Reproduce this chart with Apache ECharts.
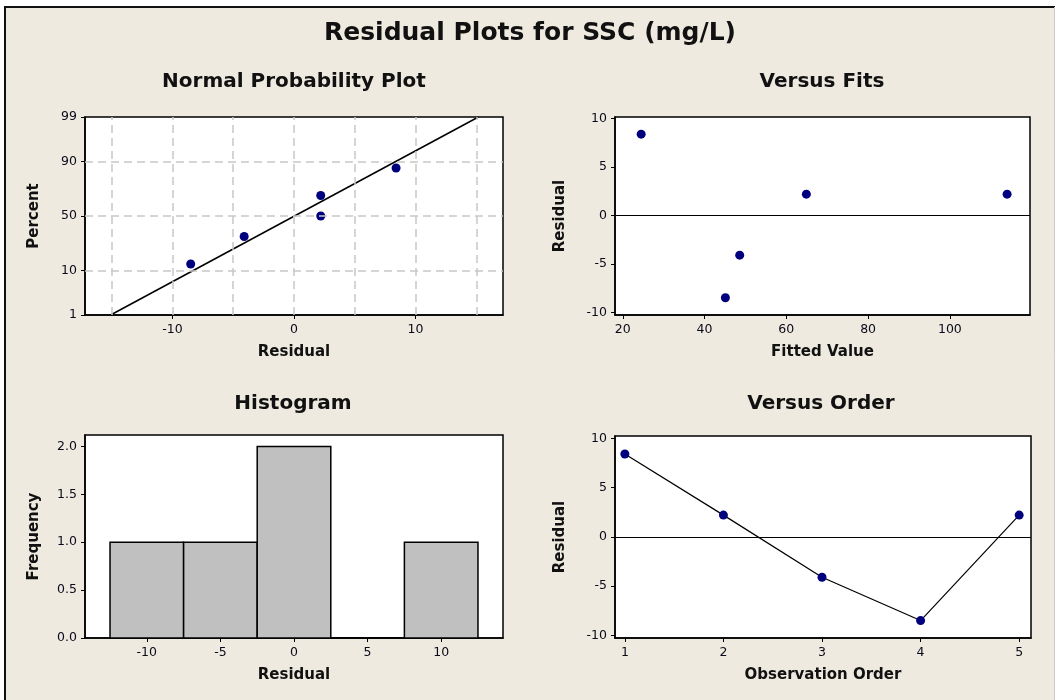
<!DOCTYPE html>
<html>
<head>
<meta charset="utf-8">
<script src="https://cdn.jsdelivr.net/npm/echarts@6/dist/echarts.min.js"></script>
<style>
html,body{margin:0;padding:0;background:#fff;}
#main{width:1061px;height:700px;}
</style>
</head>
<body>
<div id="main"></div>
<script>
// ---------------- data ----------------
const residuals = [8.4, 2.2, -4.1, -8.5, 2.2];          // by observation order
const fittedValues = [24.5, 64.9, 48.6, 45.1, 114.0];   // by observation order
const observationOrder = [1, 2, 3, 4, 5];
const nppPercent = [12.96, 31.48, 50, 68.52, 87.04];    // plotting positions (sorted residuals)
const nppTickPercent = [1, 10, 50, 90, 99];
const nppGridPercent = [10, 50, 90];
const nppGridResidual = [-15, -10, -5, 0, 5, 10, 15];
const nppXTicks = [-10, 0, 10];
const histBinCenters = [-10, -5, 0, 5, 10];
const histCounts = [1, 1, 2, 0, 1];
const histBinWidth = 5;
const histXTicks = [-10, -5, 0, 5, 10];
const histYTicks = [0, 0.5, 1, 1.5, 2];
const fitsXTicks = [20, 40, 60, 80, 100];
const residualTicks = [-10, -5, 0, 5, 10];
const orderTicks = [1, 2, 3, 4, 5];

// ---------------- helpers ----------------
function normInv(p) {
  const a = [-3.969683028665376e+01, 2.209460984245205e+02, -2.759285104469687e+02, 1.383577518672690e+02, -3.066479806614716e+01, 2.506628277459239e+00];
  const b = [-5.447609879822406e+01, 1.615858368580409e+02, -1.556989798598866e+02, 6.680131188771972e+01, -1.328068155288572e+01];
  const c = [-7.784894002430293e-03, -3.223964580411365e-01, -2.400758277161838e+00, -2.549671492554536e+00, 4.374664141464968e+00, 2.938163982698783e+00];
  const d = [7.784695709041462e-03, 3.224671290700398e-01, 2.445134137142996e+00, 3.754408661907416e+00];
  const pl = 0.02425, ph = 1 - pl;
  let q, r;
  if (p < pl) { q = Math.sqrt(-2 * Math.log(p)); return (((((c[0]*q+c[1])*q+c[2])*q+c[3])*q+c[4])*q+c[5]) / ((((d[0]*q+d[1])*q+d[2])*q+d[3])*q+1); }
  if (p <= ph) { q = p - 0.5; r = q*q; return (((((a[0]*r+a[1])*r+a[2])*r+a[3])*r+a[4])*r+a[5])*q / (((((b[0]*r+b[1])*r+b[2])*r+b[3])*r+b[4])*r+1); }
  q = Math.sqrt(-2 * Math.log(1 - p)); return -(((((c[0]*q+c[1])*q+c[2])*q+c[3])*q+c[4])*q+c[5]) / ((((d[0]*q+d[1])*q+d[2])*q+d[3])*q+1);
}
const z = pct => normInv(pct / 100);
const sortedRes = residuals.slice().sort((x, y) => x - y);
const mean = residuals.reduce((s, v) => s + v, 0) / residuals.length;
const sd = Math.sqrt(residuals.reduce((s, v) => s + (v - mean) * (v - mean), 0) / (residuals.length - 1));
const zLo = z(nppTickPercent[0]), zHi = z(nppTickPercent[nppTickPercent.length - 1]);
const nppTickZ = nppTickPercent.map(z);

const FONT = 'DejaVu Sans';
const TXT = '#111111';
const NAVY = '#00007f';

function baseAxis(extra) {
  return Object.assign({
    type: 'value',
    axisLine: { show: true, onZero: false, lineStyle: { color: '#000', width: 1.5 } },
    axisTick: { show: true, inside: false, length: 4, lineStyle: { color: '#000', width: 1 } },
    axisLabel: { color: '#0a0a1a', fontFamily: FONT, fontSize: 12.5, margin: 8 },
    splitLine: { show: false },
    nameLocation: 'middle',
    nameTextStyle: { color: TXT, fontFamily: FONT, fontSize: 15, fontWeight: 'bold' }
  }, extra);
}
function withTicks(ax, vals, fmt) {
  ax.axisTick = Object.assign({}, ax.axisTick, { customValues: vals });
  ax.axisLabel = Object.assign({}, ax.axisLabel, { customValues: vals });
  if (fmt) ax.axisLabel.formatter = fmt;
  return ax;
}

const gridStyle = { show: true, backgroundColor: '#fff', borderColor: '#000', borderWidth: 1.5 };

const option = {
  backgroundColor: '#fff',
  animation: false,
  graphic: [
    { type: 'rect', shape: { x: 5, y: 6, width: 1049, height: 700 }, style: { fill: '#eeeae0' }, z: -10, silent: true },
    { type: 'line', shape: { x1: 5, y1: 6, x2: 5, y2: 700 }, style: { stroke: '#111', lineWidth: 2 }, z: -9 },
    { type: 'line', shape: { x1: 4, y1: 7, x2: 1055, y2: 7 }, style: { stroke: '#111', lineWidth: 2 }, z: -9 },
    { type: 'line', shape: { x1: 1054.5, y1: 7, x2: 1054.5, y2: 700 }, style: { stroke: '#d0ccc4', lineWidth: 1 }, z: -9 }
  ],
  title: [
    { text: 'Residual Plots for SSC (mg/L)', left: 530, top: 21, textAlign: 'center', padding: 0,
      textStyle: { fontFamily: FONT, fontSize: 25, fontWeight: 'bold', color: TXT } },
    { text: 'Normal Probability Plot', left: 294, top: 72, textAlign: 'center', padding: 0,
      textStyle: { fontFamily: FONT, fontSize: 20, fontWeight: 'bold', color: TXT } },
    { text: 'Versus Fits', left: 822, top: 72, textAlign: 'center', padding: 0,
      textStyle: { fontFamily: FONT, fontSize: 20, fontWeight: 'bold', color: TXT } },
    { text: 'Histogram', left: 293, top: 394, textAlign: 'center', padding: 0,
      textStyle: { fontFamily: FONT, fontSize: 20, fontWeight: 'bold', color: TXT } },
    { text: 'Versus Order', left: 821, top: 394, textAlign: 'center', padding: 0,
      textStyle: { fontFamily: FONT, fontSize: 20, fontWeight: 'bold', color: TXT } }
  ],
  grid: [
    Object.assign({ left: 85, top: 117, width: 418, height: 198 }, gridStyle),
    Object.assign({ left: 615, top: 117, width: 415, height: 198 }, gridStyle),
    Object.assign({ left: 85, top: 435, width: 418, height: 203 }, gridStyle),
    Object.assign({ left: 615, top: 436, width: 416, height: 202 }, gridStyle)
  ],
  xAxis: [
    withTicks(baseAxis({ gridIndex: 0, min: -17.2, max: 17.2, name: 'Residual', nameGap: 30 }), nppXTicks),
    withTicks(baseAxis({ gridIndex: 1, min: 18.1, max: 119.6, name: 'Fitted Value', nameGap: 30 }), fitsXTicks),
    withTicks(baseAxis({ gridIndex: 2, min: -14.2, max: 14.2, name: 'Residual', nameGap: 30 }), histXTicks),
    withTicks(baseAxis({ gridIndex: 3, min: 0.9, max: 5.12, name: 'Observation Order', nameGap: 30 }), orderTicks)
  ],
  yAxis: [
    withTicks(baseAxis({ gridIndex: 0, min: zLo, max: zHi, name: 'Percent', nameGap: 43 }), nppTickZ,
      v => { let best = 0; nppTickZ.forEach((t, i) => { if (Math.abs(t - v) < Math.abs(nppTickZ[best] - v)) best = i; }); return String(nppTickPercent[best]); }),
    withTicks(baseAxis({ gridIndex: 1, min: -10.28, max: 10.17, name: 'Residual', nameGap: 47 }), residualTicks),
    withTicks(baseAxis({ gridIndex: 2, min: 0, max: 2.12, name: 'Frequency', nameGap: 43 }), histYTicks, v => v.toFixed(1)),
    withTicks(baseAxis({ gridIndex: 3, min: -10.27, max: 10.23, name: 'Residual', nameGap: 47 }), residualTicks)
  ],
  series: [
    // NPP grid lines
    {
      type: 'scatter', xAxisIndex: 0, yAxisIndex: 0, data: [], silent: true, z: 1,
      markLine: {
        silent: true, symbol: ['none', 'none'], label: { show: false }, animation: false,
        lineStyle: { color: '#c8c8c8', width: 1.5, type: [8, 5] },
        data: nppGridResidual.map(v => ({ xAxis: v })).concat(nppGridPercent.map(p => ({ yAxis: z(p) })))
      }
    },
    // NPP fitted line
    {
      type: 'line', xAxisIndex: 0, yAxisIndex: 0, symbol: 'none', z: 2, silent: true,
      lineStyle: { color: '#000', width: 1.5 },
      data: [[mean + zLo * sd, zLo], [mean + zHi * sd, zHi]]
    },
    // NPP points
    {
      type: 'scatter', xAxisIndex: 0, yAxisIndex: 0, symbol: 'circle', symbolSize: 9, z: 3,
      itemStyle: { color: NAVY, opacity: 1 },
      data: sortedRes.map((r, i) => [r, z(nppPercent[i])])
    },
    // Versus fits
    {
      type: 'scatter', xAxisIndex: 1, yAxisIndex: 1, symbol: 'circle', symbolSize: 9, z: 3,
      itemStyle: { color: NAVY, opacity: 1 },
      data: fittedValues.map((f, i) => [f, residuals[i]]),
      markLine: { silent: true, symbol: ['none', 'none'], label: { show: false }, animation: false,
        lineStyle: { color: '#000', width: 1, type: 'solid' }, data: [{ yAxis: 0 }] }
    },
    // Histogram
    {
      type: 'custom', xAxisIndex: 2, yAxisIndex: 2, z: 3,
      data: histBinCenters.map((c, i) => [c, histCounts[i]]),
      renderItem: function (params, api) {
        const c = api.value(0), h = api.value(1);
        const p0 = api.coord([c - histBinWidth / 2, 0]);
        const p1 = api.coord([c + histBinWidth / 2, h]);
        return { type: 'rect', shape: { x: p0[0], y: p1[1], width: p1[0] - p0[0], height: p0[1] - p1[1] },
          style: { fill: '#c0c0c0', stroke: '#000', lineWidth: 1.5 } };
      }
    },
    // Versus order
    {
      type: 'line', xAxisIndex: 3, yAxisIndex: 3, symbol: 'circle', symbolSize: 9, z: 3,
      lineStyle: { color: '#000', width: 1.2 },
      itemStyle: { color: NAVY, opacity: 1 },
      data: observationOrder.map((o, i) => [o, residuals[i]]),
      markLine: { silent: true, symbol: ['none', 'none'], label: { show: false }, animation: false,
        lineStyle: { color: '#000', width: 1, type: 'solid' }, data: [{ yAxis: 0 }] }
    }
  ]
};
const chart = echarts.init(document.getElementById('main'), null, { renderer: 'canvas' });
chart.setOption(option);
</script>
</body>
</html>
